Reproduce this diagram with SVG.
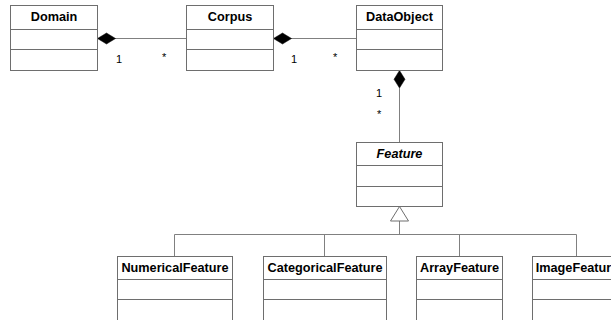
<svg xmlns="http://www.w3.org/2000/svg" width="611" height="320" viewBox="0 0 611 320">
<style>
.box{fill:#fff;stroke:#6e6e6e;stroke-width:1}
.sep{stroke:#6e6e6e;stroke-width:1}
.name{font-family:"Liberation Sans",Arial,sans-serif;font-weight:bold;font-size:12.7px;fill:#000;text-anchor:middle}
.abs{font-style:italic}
.line{fill:none;stroke:#808080;stroke-width:1}
.dia{fill:#000;stroke:#000;stroke-width:0.5}
.tri{fill:#fff;stroke:#6e6e6e;stroke-width:1}
.mult{font-family:"Liberation Sans",Arial,sans-serif;font-size:11px;fill:#000}
</style>
<rect width="611" height="320" fill="#fff"/>
<g id="connectors">
<path class="line" d="M115 38.5H186.5"/>
<path class="dia" d="M97.5 38.5L106.5 33L115.5 38.5L106.5 44Z"/>
<path class="line" d="M291 38.5H357"/>
<path class="dia" d="M273.5 38.5L282.5 33L291.5 38.5L282.5 44Z"/>
<path class="line" d="M399.5 88V142.5"/>
<path class="dia" d="M399.5 70.5L405 79.3L399.5 88L394 79.3Z"/>
<path class="line" d="M399.5 221V234.5M174.5 256V234.5H576.5V256M324.5 234.5V256M459.5 234.5V256"/>
<path class="tri" d="M399.5 206.5L408.5 221L390.5 221Z"/>
<text class="mult" x="116" y="63">1</text>
<text class="mult" x="162" y="61">*</text>
<text class="mult" x="291" y="63">1</text>
<text class="mult" x="333" y="61">*</text>
<text class="mult" x="376" y="97">1</text>
<text class="mult" x="377" y="118">*</text>
</g>
<g id="Domain">
<rect class="box" x="10.5" y="5.5" width="87" height="65"/>
<path class="sep" d="M10.5 29.5H97.5M10.5 49.5H97.5"/>
<text class="name" x="54" y="21">Domain</text>
</g>
<g id="Corpus">
<rect class="box" x="186.5" y="5.5" width="87" height="65"/>
<path class="sep" d="M186.5 29.5H273.5M186.5 49.5H273.5"/>
<text class="name" x="230" y="21">Corpus</text>
</g>
<g id="DataObject">
<rect class="box" x="356.5" y="5.5" width="86" height="65"/>
<path class="sep" d="M356.5 29.5H442.5M356.5 49.5H442.5"/>
<text class="name" x="399.5" y="21">DataObject</text>
</g>
<g id="Feature">
<rect class="box" x="356.5" y="142.5" width="86" height="64"/>
<path class="sep" d="M356.5 165.5H442.5M356.5 186.5H442.5"/>
<text class="name abs" x="399.5" y="158">Feature</text>
</g>
<g id="NumericalFeature">
<rect class="box" x="117.5" y="256.5" width="115" height="64"/>
<path class="sep" d="M117.5 279.5H232.5M117.5 299.5H232.5"/>
<text class="name" x="175" y="272">NumericalFeature</text>
</g>
<g id="CategoricalFeature">
<rect class="box" x="263.5" y="256.5" width="123" height="64"/>
<path class="sep" d="M263.5 279.5H386.5M263.5 299.5H386.5"/>
<text class="name" x="325" y="272">CategoricalFeature</text>
</g>
<g id="ArrayFeature">
<rect class="box" x="416.5" y="256.5" width="86" height="64"/>
<path class="sep" d="M416.5 279.5H502.5M416.5 299.5H502.5"/>
<text class="name" x="459.5" y="272">ArrayFeature</text>
</g>
<g id="ImageFeature">
<rect class="box" x="532.5" y="256.5" width="89" height="64"/>
<path class="sep" d="M532.5 279.5H621.5M532.5 299.5H621.5"/>
<text class="name" x="577" y="272">ImageFeature</text>
</g>
</svg>
